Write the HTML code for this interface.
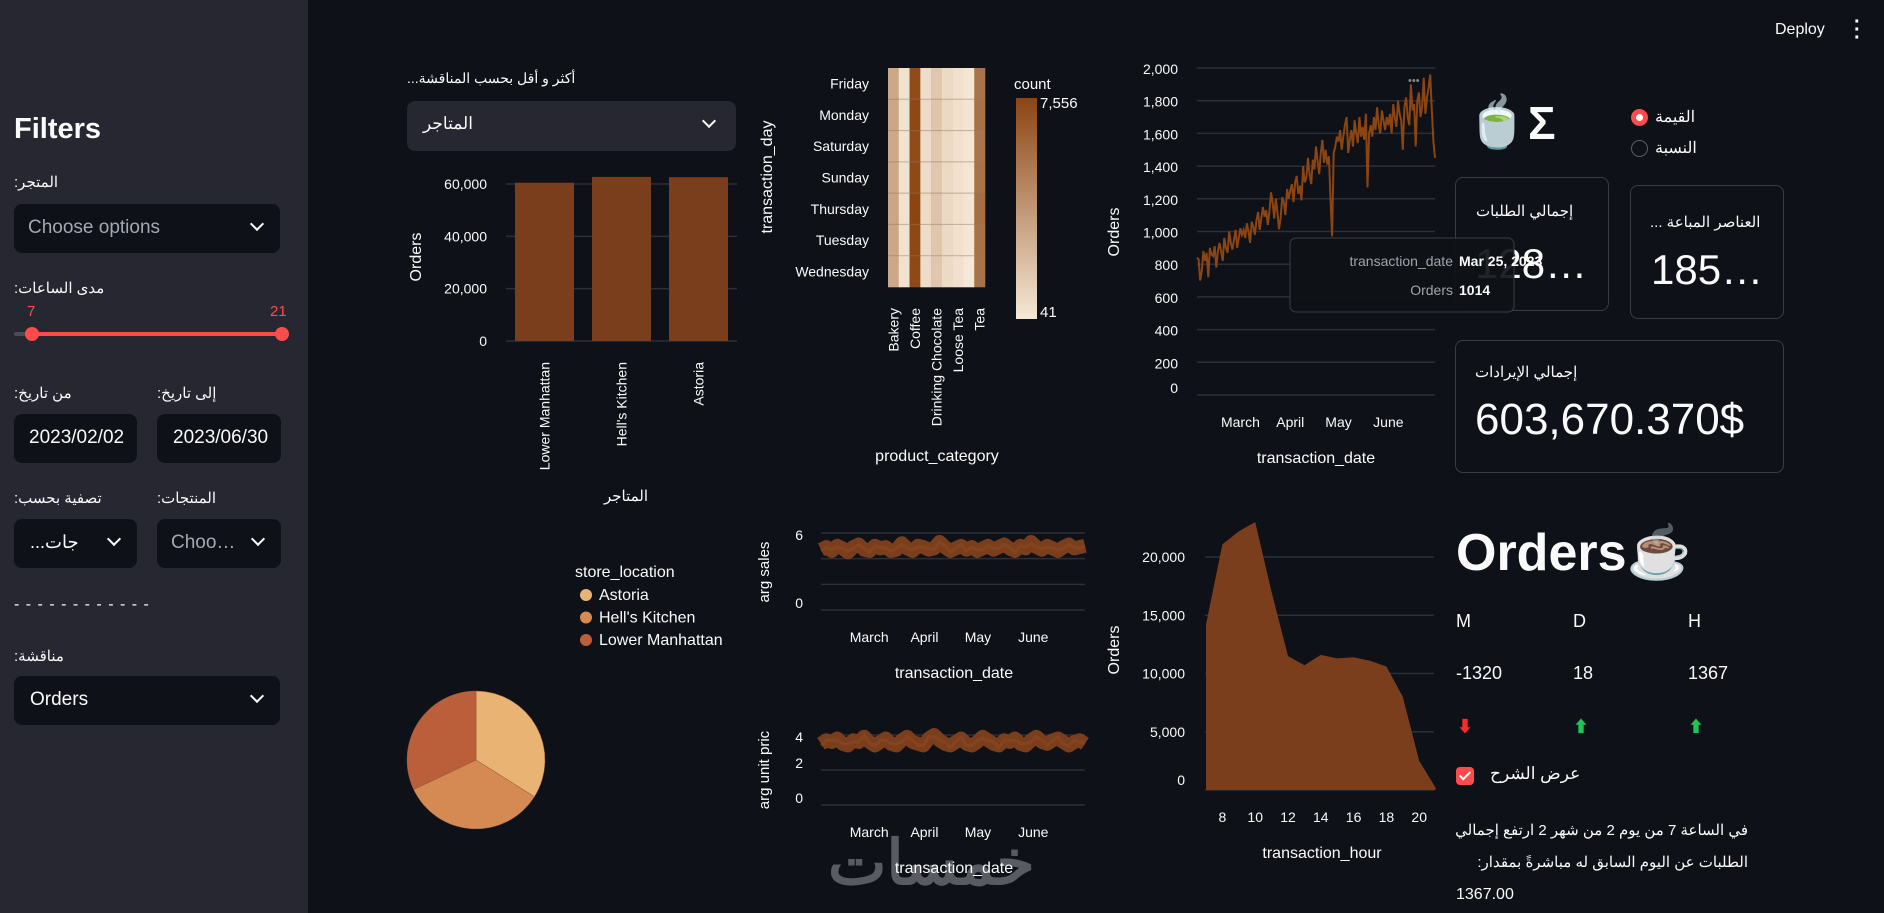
<!DOCTYPE html>
<html style="height:913px;overflow:hidden"><head><meta charset="utf-8">
<style>
*{box-sizing:border-box;margin:0;padding:0}
html,body{width:1884px;height:913px;overflow:hidden}
body{background:#0e1117;color:#fafafa;font-family:"Liberation Sans","Noto Sans CJK SC",sans-serif;position:relative}
.abs{position:absolute}
#sidebar{left:0;top:0;width:308px;height:913px;background:#262730}
.lbl{font-size:15px;color:#fafafa;white-space:nowrap}
.sel{background:#0e1117;border-radius:8px;height:49px}
.chev{position:absolute;right:18px;top:15px;width:10px;height:10px;border-right:2.5px solid #fafafa;border-bottom:2.5px solid #fafafa;transform:rotate(45deg)}
.card{border:1px solid #3a3d46;border-radius:8px}
svg text{font-family:"Liberation Sans","Noto Sans CJK SC",sans-serif}
</style></head><body>
<div id="sidebar" class="abs">
  <div class="abs" style="left:14px;top:113px;font-size:29px;font-weight:bold">Filters</div>
  <div class="abs lbl" dir="rtl" style="left:14px;top:173px">المتجر:</div>
  <div class="abs sel" style="left:14px;top:204px;width:266px"><span class="abs" style="left:14px;top:13px;font-size:19px;color:#a3a8b4">Choose options</span><div class="chev"></div></div>
  <div class="abs lbl" dir="rtl" style="left:14px;top:279px">مدى الساعات:</div>
  <div class="abs" style="left:27px;top:303px;font-size:15px;color:#ff4b4b">7</div>
  <div class="abs" style="left:270px;top:303px;font-size:15px;color:#ff4b4b">21</div>
  <div class="abs" style="left:14px;top:332px;width:268px;height:4px;background:#4a4c55;border-radius:2px"></div>
  <div class="abs" style="left:32px;top:332px;width:250px;height:4px;background:#ff4b4b"></div>
  <div class="abs" style="left:25px;top:327px;width:14px;height:14px;border-radius:50%;background:#ff4b4b"></div>
  <div class="abs" style="left:275px;top:327px;width:14px;height:14px;border-radius:50%;background:#ff4b4b"></div>
  <div class="abs lbl" dir="rtl" style="left:14px;top:384px">من تاريخ:</div>
  <div class="abs lbl" dir="rtl" style="left:157px;top:384px">إلى تاريخ:</div>
  <div class="abs sel" style="left:14px;top:414px;width:123px"><span class="abs" style="left:15px;top:13px;font-size:19px">2023/02/02</span></div>
  <div class="abs sel" style="left:157px;top:414px;width:124px"><span class="abs" style="left:16px;top:13px;font-size:19px">2023/06/30</span></div>
  <div class="abs lbl" dir="rtl" style="left:14px;top:489px">تصفية بحسب:</div>
  <div class="abs lbl" dir="rtl" style="left:157px;top:489px">المنتجات:</div>
  <div class="abs sel" style="left:14px;top:519px;width:123px"><span class="abs" style="left:16px;top:13px;font-size:18px">...جات</span><div class="chev"></div></div>
  <div class="abs sel" style="left:157px;top:519px;width:124px"><span class="abs" style="left:14px;top:13px;font-size:19px;color:#a3a8b4">Choo…</span><div class="chev"></div></div>
  <div class="abs" style="left:14px;top:596px;font-size:16px;letter-spacing:1px;color:#fafafa">- - - - - - - - - - - -</div>
  <div class="abs lbl" dir="rtl" style="left:14px;top:647px">مناقشة:</div>
  <div class="abs sel" style="left:14px;top:676px;width:266px"><span class="abs" style="left:16px;top:13px;font-size:19px">Orders</span><div class="chev"></div></div>
</div>

<div class="abs" style="left:1775px;top:21px;font-size:16px">Deploy</div>
<div class="abs" style="left:1854px;top:18px;font-size:20px;font-weight:bold;line-height:8px">·<br>·<br>·</div>

<div class="abs" dir="rtl" style="left:407px;top:70px;font-size:14px">أكثر و أقل بحسب المناقشة...</div>
<div class="abs" style="left:407px;top:101px;width:329px;height:50px;background:#262730;border-radius:8px"><span class="abs" style="left:16px;top:13px;font-size:17px">المتاجر</span><div class="chev" style="right:22px"></div></div>

<div class="abs" style="left:1466px;top:94px;font-size:50px;line-height:56px">🍵</div>
<div class="abs" style="left:1528px;top:96px;font-size:46px;font-weight:bold">Σ</div>
<div class="abs" style="left:1631px;top:109px;width:17px;height:17px;border-radius:50%;background:#ff4b4b"><div class="abs" style="left:5px;top:5px;width:7px;height:7px;border-radius:50%;background:#fff"></div></div>
<div class="abs lbl" style="left:1655px;top:107px;font-size:16px">القيمة</div>
<div class="abs" style="left:1631px;top:140px;width:17px;height:17px;border-radius:50%;background:#0e1117;border:1px solid #5a5d66"></div>
<div class="abs lbl" style="left:1655px;top:138px;font-size:16px">النسبة</div>

<div class="abs card" style="left:1455px;top:177px;width:154px;height:134px">
 <div class="abs" style="left:20px;top:24px;font-size:15px;white-space:nowrap">إجمالي الطلبات</div>
 <div class="abs" style="left:19px;top:62px;font-size:42px;white-space:nowrap">128…</div>
</div>
<div class="abs card" style="left:1630px;top:185px;width:154px;height:134px">
 <div class="abs" style="left:19px;top:27px;font-size:15px;white-space:nowrap">... العناصر المباعة</div>
 <div class="abs" style="left:20px;top:60px;font-size:42px;white-space:nowrap">185…</div>
</div>
<div class="abs card" style="left:1455px;top:340px;width:329px;height:133px">
 <div class="abs" style="left:19px;top:22px;font-size:15px;white-space:nowrap">إجمالي الإيرادات</div>
 <div class="abs" style="left:19px;top:54px;font-size:44px;white-space:nowrap">603,670.370$</div>
</div>

<div class="abs" style="left:1456px;top:522px;font-size:52px;font-weight:bold">Orders☕</div>
<div class="abs" style="left:1456px;top:611px;font-size:18px">M</div>
<div class="abs" style="left:1573px;top:611px;font-size:18px">D</div>
<div class="abs" style="left:1688px;top:611px;font-size:18px">H</div>
<div class="abs" style="left:1456px;top:663px;font-size:18px">-1320</div>
<div class="abs" style="left:1573px;top:663px;font-size:18px">18</div>
<div class="abs" style="left:1688px;top:663px;font-size:18px">1367</div>
<div class="abs" style="left:1457px;top:713px;font-size:16px;color:#ff2b2b">⬇</div>
<div class="abs" style="left:1573px;top:713px;font-size:16px;color:#21c354">⬆</div>
<div class="abs" style="left:1688px;top:713px;font-size:16px;color:#21c354">⬆</div>
<div class="abs" style="left:1456px;top:767px;width:18px;height:18px;background:#ff4b4b;border-radius:4px"><div class="abs" style="left:6px;top:2px;width:6px;height:11px;border-right:2.5px solid #fff;border-bottom:2.5px solid #fff;transform:rotate(45deg)"></div></div>
<div class="abs" style="left:1490px;top:764px;font-size:17px">عرض الشرح</div>
<div class="abs" dir="rtl" style="left:1456px;top:815px;width:292px;font-size:15px;line-height:32px;text-align:right;white-space:nowrap">في الساعة 7 من يوم 2 من شهر 2 ارتفع إجمالي</div>
<div class="abs" dir="rtl" style="left:1456px;top:847px;width:292px;font-size:15px;line-height:32px;text-align:right;white-space:nowrap">الطلبات عن اليوم السابق له مباشرةً بمقدار:</div>
<div class="abs" style="left:1456px;top:879px;font-size:16px;line-height:32px">1367.00</div>

<div class="abs" style="left:828px;top:826px;font-size:62px;font-weight:bold;color:#585b62">خمسات</div>

<svg id="chart" class="abs" style="left:0;top:0" width="1884" height="913"></svg>

<script>
// ---- data ----
const storeNames=['Lower Manhattan',"Hell's Kitchen",'Astoria'];
const storeOrders=[60500,62700,62600];
const barTicks=[0,20000,40000,60000];

const heatDays=['Friday','Monday','Saturday','Sunday','Thursday','Tuesday','Wednesday'];
const heatCats=['Bakery','Branded','Coffee','Coffee beans','Drinking Chocolate','Flavours','Loose Tea','Packaged Chocolate','Tea'];
const heatVals=[
 [3000,300,7300,600,1600,700,400,150,5400],
 [3050,320,7400,620,1650,720,420,160,5500],
 [2950,290,7250,580,1550,690,390,140,5350],
 [2980,300,7350,600,1600,700,400,150,5450],
 [3080,330,7556,640,1680,740,430,170,5650],
 [3020,310,7420,610,1620,710,410,155,5500],
 [2990,300,7380,600,1600,700,400,41,5450]];
const countTicks=[41,7556];

const lineOrders=[840,830,700,760,880,820,870,720,900,860,850,910,780,880,930,880,820,960,900,870,1000,930,890,950,1010,900,960,
1020,980,1010,960,1050,1000,930,1060,1030,980,1070,1120,1010,1080,1150,1090,1130,1040,1120,1240,1180,1080,1200,1120,1014,1080,1210,1180,1100,1260,1200,
1250,1290,1180,1300,1340,1230,1280,1190,1400,1300,1330,1450,1350,1290,1440,1380,1520,1430,1350,1480,1560,1420,1500,1410,1460,1200,970,1480,1520,1580,
1550,1620,1500,1580,1650,1700,1480,1560,1620,1520,1680,1600,1540,1700,1580,1640,1560,1720,1270,1600,1650,1580,1700,1620,1760,1650,1600,1740,1680,1620,1700,
1650,1720,1600,1780,1700,1640,1800,1720,1680,1500,1760,1820,1700,1650,1900,1740,1780,1520,1800,1850,1700,1760,1940,1720,1820,1880,1960,1750,1550,1450];
const lineTicks=[0,200,400,600,800,1000,1200,1400,1600,1800,2000];
const monthLabels=['March','April','May','June'];
const monthDays=[27,58,88,119];

const pieLabels=['Astoria',"Hell's Kitchen",'Lower Manhattan'];
const pieValues=[50599,50735,47782];
const pieColors=['#e9b373','#d48a52','#bb5e3a'];

const avgSales=[4.7,4.9,4.6,5.0,4.8,4.5,4.9,5.1,4.7,4.6,5.0,4.8,4.9,4.6,4.7,5.2,4.8,4.6,5.0,4.9,4.7,4.8,5.3,4.9,4.6,4.8,5.0,4.7,4.9,4.6,4.8,5.0,4.7,4.9,5.1,4.8,4.6,5.0,4.8,5.3,4.9,4.7,5.0,4.8,4.6,4.9,5.1,4.8,4.9,5.0];
const salesTicks=[0,6];
const avgPrice=[3.5,3.7,3.6,3.8,3.5,3.4,3.7,3.6,3.9,3.6,3.4,3.6,3.8,3.5,3.4,3.7,3.9,3.6,3.5,3.4,3.8,4.0,3.7,3.5,3.4,3.6,3.8,3.5,3.4,3.6,3.9,3.7,3.5,3.4,3.7,3.6,3.8,3.5,3.4,3.7,3.9,3.6,3.5,3.7,3.8,3.6,3.4,3.6,3.7,3.5];
const priceTicks=[0,2,4];

const hours=[7,8,9,10,11,12,13,14,15,16,17,18,19,20,21];
const hourOrders=[14200,21100,22200,23000,17000,11500,10700,11600,11300,11400,11100,10600,8000,2500,200];
const hourTicks=[0,5000,10000,15000,20000];
const hourLabels=[8,10,12,14,16,18,20];

// ---- helpers ----
const NS='http://www.w3.org/2000/svg';
const svg=document.getElementById('chart');
function mk(tag,attrs,parent){const e=document.createElementNS(NS,tag);for(const k in attrs)e.setAttribute(k,attrs[k]);(parent||svg).appendChild(e);return e;}
function tx(x,y,s,attrs){const e=mk('text',Object.assign({x:x,y:y,fill:'#fafafa','font-size':14},attrs||{}));e.textContent=s;return e;}
const GRID='#2c2f38', BROWN='#7a3e1c';

// ---- bar chart ----
const bY=v=>341-v/60000*157;
const bBand=77,bX0=506;
barTicks.forEach(t=>{
 const g=mk('line',{x1:bX0,x2:737,y1:bY(t),y2:bY(t),stroke:GRID,'stroke-width':1.5});
 
 
 const l=tx(487,bY(t)+5,t.toLocaleString('en-US'),{'text-anchor':'end'});
 
 
});
storeOrders.forEach((v,i)=>{
 const r=mk('rect',{x:bX0+i*bBand+9,y:bY(v),width:59,height:341-bY(v),fill:BROWN});
 
 
 const cx=bX0+i*bBand+38.5;
 const l=tx(cx+5,362,storeNames[i],{'text-anchor':'end',transform:'rotate(-90 '+(cx+5)+' 362)'});
 
 
});
let t1=tx(421,257,'Orders',{'text-anchor':'middle','font-size':16,transform:'rotate(-90 421 257)'});


let t2=tx(626,501,'المتاجر',{'text-anchor':'middle','font-size':15});



// ---- heatmap ----
const lo=[245,232,214],hi=[139,69,19];
const hColor=v=>{const f=(v-countTicks[0])/(countTicks[1]-countTicks[0]);return 'rgb('+lo.map((c,i)=>Math.round(c+(hi[i]-c)*f)).join(',')+')';};
const hx0=888,hw=97/9,hy0=68,hh=219/7;
heatVals.forEach((row,r)=>{
 row.forEach((v,c)=>{
  const cell=mk('rect',{x:hx0+c*hw,y:hy0+r*hh,width:hw+0.3,height:hh+0.3,fill:hColor(v)});
  
  
 });
 const l=tx(869,hy0+r*hh+hh/2+5,heatDays[r],{'text-anchor':'end'});
 
 
 if(r>0){const gl=mk('line',{x1:hx0,x2:hx0+97,y1:hy0+r*hh,y2:hy0+r*hh,stroke:'rgba(150,120,90,0.5)','stroke-width':1});
 
 }
});
heatCats.forEach((c,i)=>{
 if(i%2)return;
 const cx=hx0+i*hw+hw/2+5;
 const l=tx(cx,308,c,{'text-anchor':'end',transform:'rotate(-90 '+cx+' 308)'});
 
 
});
let t3=tx(772,177,'transaction_day',{'text-anchor':'middle','font-size':16,transform:'rotate(-90 772 177)'});


let t4=tx(937,461,'product_category',{'text-anchor':'middle','font-size':16});


const defs=mk('defs',{});
const grad=mk('linearGradient',{id:'cb',x1:0,y1:1,x2:0,y2:0},defs);
mk('stop',{offset:0,'stop-color':hColor(countTicks[0])},grad);
mk('stop',{offset:1,'stop-color':hColor(countTicks[1])},grad);
const cb=mk('rect',{x:1016,y:98,width:21,height:221,fill:'url(#cb)'});


let t5=tx(1014,89,'count',{'font-size':15});


let t6=tx(1040,108,countTicks[1].toLocaleString('en-US'),{'font-size':15});


let t7=tx(1040,317,String(countTicks[0]),{'font-size':15});



// ---- line chart ----
const lX=i=>1197+i*238/148, lY=v=>395-v/2000*327;
lineTicks.forEach(t=>{
 const g=mk('line',{x1:1197,x2:1435,y1:lY(t),y2:lY(t),stroke:GRID,'stroke-width':1.5});
 
 
 const l=tx(1178,lY(t)+(t===0?-2:6),t.toLocaleString('en-US'),{'text-anchor':'end'});
 
 
});
monthLabels.forEach((m,i)=>{
 const l=tx(lX(monthDays[i]),427,m,{'text-anchor':'middle'});
 
 
});
const lp=mk('path',{d:lineOrders.map((v,i)=>(i?'L':'M')+lX(i).toFixed(1)+','+lY(v).toFixed(1)).join(''),fill:'none',stroke:'#8b4513','stroke-width':2});


let t8=tx(1119,232,'Orders',{'text-anchor':'middle','font-size':16,transform:'rotate(-90 1119 232)'});


let t9=tx(1316,463,'transaction_date',{'text-anchor':'middle','font-size':16});


let dots=tx(1408,84,'•••',{'font-size':11,fill:'#888'});



// ---- pie ----
const pTot=pieValues.reduce((a,b)=>a+b,0);
let ang=-Math.PI/2;
const pcx=476,pcy=760,pr=69;
pieValues.forEach((v,i)=>{
 const a2=ang+v/pTot*2*Math.PI;
 const p=mk('path',{d:'M'+pcx+','+pcy+'L'+(pcx+pr*Math.cos(ang))+','+(pcy+pr*Math.sin(ang))+'A'+pr+','+pr+' 0 '+(a2-ang>Math.PI?1:0)+' 1 '+(pcx+pr*Math.cos(a2))+','+(pcy+pr*Math.sin(a2))+'Z',fill:pieColors[i],stroke:'#8a5a3a','stroke-width':0.5});
 
 
 ang=a2;
 const d=mk('circle',{cx:586,cy:595+i*22.5,r:6,fill:pieColors[i]});
 
 
 const l=tx(599,600+i*22.5,pieLabels[i],{'font-size':16});
 
 
});
let t10=tx(575,577,'store_location',{'font-size':16});



// ---- small charts ----
function small(vals,ticks,maxV,y0,y1,name,title,tickLblY,monthY,titleY){
 const sx=i=>821+i*(264/(vals.length-1)), sy=v=>y0-v/maxV*(y0-y1);
 const gl=[];for(let v=0;v<=maxV;v+=2)gl.push(v);
 gl.forEach(v=>{const g=mk('line',{x1:821,x2:1085,y1:sy(v),y2:sy(v),stroke:GRID,'stroke-width':1.5});
  
  });
 ticks.forEach(t=>{const l=tx(803,sy(t)+(t===maxV?7:-2),String(t),{'text-anchor':'end'});
  
  });
 const p=mk('path',{d:vals.map((v,i)=>(i?'L':'M')+sx(i).toFixed(1)+','+sy(v).toFixed(1)).join(''),fill:'none',stroke:'#7a3e1c','stroke-width':14,'stroke-linejoin':'round','stroke-linecap':'butt'});
 
 
 const p2=mk('path',{d:vals.map((v,i)=>(i?'L':'M')+sx(i).toFixed(1)+','+sy(v+(i%3-1)*0.1).toFixed(1)).join(''),fill:'none',stroke:'#8b4a22','stroke-width':3,opacity:0.6});
 
 
 monthLabels.forEach((m,i)=>{const l=tx(821+monthDays[i]*264/148,monthY,m,{'text-anchor':'middle'});
  
  });
 const a=tx(954,monthY+36,'transaction_date',{'text-anchor':'middle','font-size':16});
 
 
 const b=tx(769,titleY,title,{'text-anchor':'middle','font-size':15,transform:'rotate(-90 769 '+titleY+')'});
 
 
}
small(avgSales,salesTicks,6,610,533,'avg-sales','arg sales',0,642,572);
small(avgPrice,priceTicks,4,805,735,'avg-price','arg unit pric',0,837,770);

// ---- area chart ----
const aX=h=>1206+(h-7)*16.4, aY=v=>790-v/20000*233;
hourTicks.forEach(t=>{
 const g=mk('line',{x1:1205,x2:1434,y1:aY(t),y2:aY(t),stroke:GRID,'stroke-width':1.5});
 
 
 const l=tx(1185,aY(t)+(t===0?-5:5),t.toLocaleString('en-US'),{'text-anchor':'end'});
 
 
});
const ap=mk('path',{d:'M'+aX(hours[0])+','+aY(0)+hours.map((h,i)=>'L'+aX(h).toFixed(1)+','+aY(hourOrders[i]).toFixed(1)).join('')+'L'+aX(hours[hours.length-1])+','+aY(0)+'Z',fill:BROWN});


hourLabels.forEach(h=>{const l=tx(aX(h),822,String(h),{'text-anchor':'middle'});
 
 });
let t11=tx(1119,650,'Orders',{'text-anchor':'middle','font-size':16,transform:'rotate(-90 1119 650)'});


let t12=tx(1322,858,'transaction_hour',{'text-anchor':'middle','font-size':16});



// ---- tooltip ----
const tg=mk('g',{});


mk('rect',{x:1290,y:238,width:224,height:74,rx:6,fill:'#0e1117',stroke:'#3a3d46','fill-opacity':0.92},tg);
tx(1453,266,'transaction_date',{'text-anchor':'end',fill:'#a0a4ad','font-size':14});
tx(1459,266,'Mar 25, 2023',{'font-size':14,'font-weight':'bold'});
tx(1453,295,'Orders',{'text-anchor':'end',fill:'#a0a4ad','font-size':14});
tx(1459,295,'1014',{'font-size':14,'font-weight':'bold'});
</script>
</body></html>
